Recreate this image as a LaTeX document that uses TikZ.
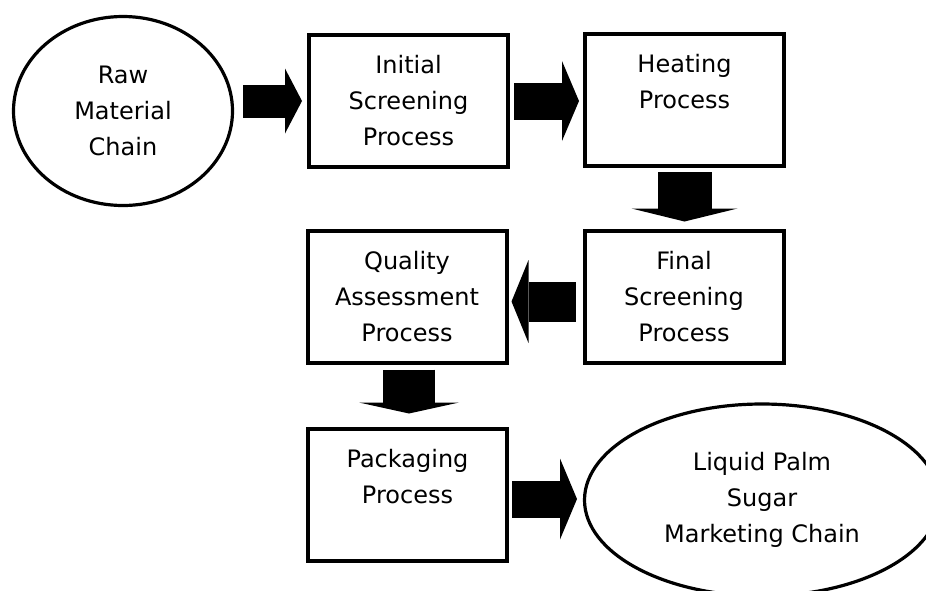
\documentclass[tikz,border=0pt]{standalone}
\usepackage{fontspec}
\setmainfont{DejaVu Sans}
\usetikzlibrary{arrows.meta,shapes.geometric}
\begin{document}
\begin{tikzpicture}[x=1pt,y=-1pt,
  every node/.style={font=\fontsize{24}{36}\selectfont, align=center, outer sep=0pt, inner sep=0pt},
  procbox/.style={draw, line width=4pt, rectangle, minimum width=199pt, minimum height=132pt},
  chainoval/.style={draw, line width=3.2pt, ellipse},
  blk/.style n args={3}{line width=#1, -{Triangle[length=#2 0 0,width=#3 0 0,line width=0pt 0 0]}}]
\useasboundingbox (0,0) rectangle (926,590);
\node[chainoval, minimum width=219pt, minimum height=189pt] (raw) at (123,111) {Raw\\Material\\Chain};
\node[procbox] (init) at (408.5,101) {Initial\\Screening\\Process};
\node[procbox] (heat) at (684.5,99.5) {Heating\\Process\\\mbox{}};
\node[procbox] (qual) at (407,296.5) {Quality\\Assessment\\Process};
\node[procbox] (final) at (684,296.5) {Final\\Screening\\Process};
\node[procbox] (pack) at (407.5,494.5) {Packaging\\Process\\\mbox{}};
\node[chainoval, minimum width=355pt, minimum height=192pt] (liq) at (762,500) {Liquid Palm\\Sugar\\Marketing Chain};
\draw[blk={33pt}{17pt}{65pt}, shorten <=10.5pt, shorten >=7pt] (raw.east |- init.west) -- (init.west);
\draw[blk={37pt}{17pt}{80pt}, shorten <=6pt, shorten >=6pt] (init.east) -- (init.east -| heat.west);
\draw[blk={54pt}{13pt}{106pt}, shorten <=6.5pt, shorten >=9pt] (heat.south) -- (heat.south |- final.north);
\draw[blk={40pt}{17pt}{83pt}, shorten <=9pt, shorten >=5pt] ([yshift=-5pt]final.west) -- ([yshift=-5pt]final.west -| qual.east);
\draw[blk={52pt}{11pt}{100pt}, shorten <=7pt, shorten >=15pt] ([xshift=2pt]qual.south) -- ([xshift=2pt]qual.south |- pack.north);
\draw[blk={37pt}{17pt}{81pt}, shorten <=5pt, shorten >=7.5pt] ([yshift=-4.5pt]pack.east) -- ([yshift=-4.5pt]pack.east -| liq.west);
\end{tikzpicture}
\end{document}
